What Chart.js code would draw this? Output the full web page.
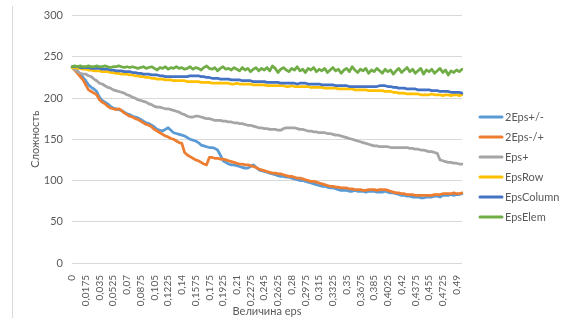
<!DOCTYPE html>
<html>
<head>
<meta charset="utf-8">
<script src="https://cdn.jsdelivr.net/npm/chart.js@4.4.1/dist/chart.umd.min.js"></script>
<style>
  html, body { margin: 0; padding: 0; background: #fff; }
  #wrap { position: relative; width: 561px; height: 321px; }
  #frame { position: absolute; left: 12px; top: 6px; height: 312px; border-left: 1px solid #d9d9d9; }
  canvas { position: absolute; left: 0; top: 0; }
</style>
</head>
<body>
<div id="wrap">
  <div id="frame"></div>
  <canvas id="c" width="561" height="321"></canvas>
</div>
<script>
// eps values along the horizontal axis
const epsValues = [
  0, 0.0035, 0.007, 0.0105, 0.014, 0.0175, 0.021, 0.0245, 0.028, 0.0315,
  0.035, 0.0385, 0.042, 0.0455, 0.049, 0.0525, 0.056, 0.0595, 0.063, 0.0665,
  0.07, 0.0735, 0.077, 0.0805, 0.084, 0.0875, 0.091, 0.0945, 0.098, 0.1015,
  0.105, 0.1085, 0.112, 0.1155, 0.119, 0.1225, 0.126, 0.1295, 0.133, 0.1365,
  0.14, 0.1435, 0.147, 0.1505, 0.154, 0.1575, 0.161, 0.1645, 0.168, 0.1715,
  0.175, 0.1785, 0.182, 0.1855, 0.189, 0.1925, 0.196, 0.1995, 0.203, 0.2065,
  0.21, 0.2135, 0.217, 0.2205, 0.224, 0.2275, 0.231, 0.2345, 0.238, 0.2415,
  0.245, 0.2485, 0.252, 0.2555, 0.259, 0.2625, 0.266, 0.2695, 0.273, 0.2765,
  0.28, 0.2835, 0.287, 0.2905, 0.294, 0.2975, 0.301, 0.3045, 0.308, 0.3115,
  0.315, 0.3185, 0.322, 0.3255, 0.329, 0.3325, 0.336, 0.3395, 0.343, 0.3465,
  0.35, 0.3535, 0.357, 0.3605, 0.364, 0.3675, 0.371, 0.3745, 0.378, 0.3815,
  0.385, 0.3885, 0.392, 0.3955, 0.399, 0.4025, 0.406, 0.4095, 0.413, 0.4165,
  0.42, 0.4235, 0.427, 0.4305, 0.434, 0.4375, 0.441, 0.4445, 0.448, 0.4515,
  0.455, 0.4585, 0.462, 0.4655, 0.469, 0.4725, 0.476, 0.4795, 0.483, 0.4865,
  0.49, 0.4935, 0.497
];

const series2EpsPM = [
  237, 236, 233, 229, 225, 221, 216, 213, 211, 208,
  201, 197, 195, 193, 190, 188, 187, 186, 185, 183,
  181, 180, 178, 177, 176, 174, 172, 170, 169, 167,
  165, 162, 161, 160, 162, 164, 161, 158, 157, 156,
  155, 154, 152, 150, 149, 148, 146, 143, 142, 141,
  140, 140, 139, 137, 131, 124, 122, 120, 119, 119,
  118, 117, 116, 115, 115, 117, 119, 116, 113, 112,
  111, 110, 109, 108, 107, 106, 105, 105, 104, 104,
  103, 102, 101, 100, 100, 99, 98, 97, 96, 95,
  94, 93, 93, 92, 91, 91, 90, 89, 88, 88,
  88, 87, 87, 88, 87, 87, 87, 86, 87, 87,
  87, 86, 86, 86, 87, 86, 85, 85, 84, 83,
  82, 82, 81, 81, 80, 80, 80, 79, 79, 80,
  80, 80, 81, 81, 80, 82, 82, 82, 83, 82,
  83, 83, 84
];

const series2EpsMP = [
  237, 234, 230, 226, 222, 216, 210, 208, 206, 204,
  198, 195, 193, 190, 188, 187, 186, 187, 185, 182,
  180, 178, 177, 175, 174, 172, 170, 168, 167, 165,
  162, 160, 158, 156, 154, 153, 151, 150, 148, 146,
  145, 134, 131, 129, 127, 125, 124, 122, 120, 119,
  128, 128, 127, 127, 126, 126, 125, 124, 123, 122,
  121, 120, 120, 119, 119, 118, 117, 116, 114, 113,
  112, 111, 110, 109, 109, 108, 108, 107, 106, 105,
  105, 104, 103, 103, 102, 101, 100, 99, 99, 98,
  97, 96, 95, 94, 93, 93, 92, 92, 91, 91,
  91, 90, 90, 89, 89, 89, 88, 88, 89, 89,
  89, 88, 89, 89, 89, 88, 87, 86, 85, 85,
  84, 84, 83, 83, 83, 82, 82, 82, 82, 82,
  82, 82, 83, 83, 83, 84, 84, 84, 84, 85,
  84, 84, 85
];

const seriesEpsPlus = [
  237, 235, 232, 230, 229, 229, 227, 226, 223, 221,
  218, 217, 215, 213, 212, 210, 209, 208, 207, 206,
  204, 203, 201, 200, 198, 197, 196, 195, 193, 192,
  190, 189, 189, 188, 187, 187, 186, 185, 184, 183,
  181, 180, 178, 177, 177, 178, 178, 177, 176, 175,
  175, 174, 173, 173, 173, 172, 172, 171, 171, 170,
  170, 169, 169, 168, 167, 167, 166, 165, 164, 164,
  163, 163, 162, 162, 162, 161, 161, 163, 164, 164,
  164, 164, 163, 162, 162, 161, 160, 160, 159, 159,
  158, 158, 158, 157, 157, 156, 155, 155, 154, 153,
  152, 151, 150, 149, 148, 147, 146, 145, 144, 143,
  142, 142, 141, 141, 141, 141, 140, 140, 140, 140,
  140, 140, 140, 139, 139, 138, 138, 137, 137, 136,
  135, 135, 134, 133, 125, 124, 123, 122, 122, 121,
  121, 120, 120
];

const seriesEpsRow = [
  237, 237, 236, 236, 235, 235, 234, 234, 233, 233,
  233, 232, 232, 232, 231, 231, 230, 230, 229, 229,
  229, 228, 228, 227, 227, 226, 226, 225, 225, 224,
  224, 223, 223, 223, 222, 222, 222, 221, 221, 221,
  221, 221, 220, 220, 220, 220, 220, 219, 219, 219,
  219, 218, 218, 218, 218, 218, 218, 218, 217, 217,
  218, 217, 217, 217, 217, 217, 216, 216, 216, 216,
  216, 215, 215, 215, 215, 215, 215, 215, 214, 214,
  215, 214, 214, 214, 214, 214, 214, 213, 213, 213,
  213, 213, 212, 212, 212, 212, 212, 211, 211, 211,
  211, 211, 211, 210, 210, 210, 210, 210, 209, 209,
  209, 209, 209, 209, 208, 208, 208, 207, 207, 206,
  206, 206, 205, 205, 205, 205, 205, 204, 204, 204,
  204, 205, 204, 204, 204, 203, 204, 204, 203, 204,
  204, 203, 204
];

const seriesEpsColumn = [
  238, 238, 238, 237, 237, 237, 237, 236, 236, 236,
  236, 235, 235, 235, 234, 234, 233, 233, 233, 232,
  232, 232, 231, 231, 230, 230, 229, 229, 229, 228,
  228, 228, 227, 227, 226, 226, 226, 226, 226, 226,
  226, 226, 226, 227, 227, 227, 227, 226, 226, 225,
  225, 224, 224, 224, 223, 223, 223, 223, 222, 222,
  222, 222, 221, 221, 221, 221, 220, 220, 220, 220,
  220, 219, 219, 219, 219, 219, 218, 218, 218, 218,
  218, 218, 217, 218, 218, 218, 217, 217, 217, 217,
  217, 216, 216, 216, 216, 216, 215, 215, 215, 215,
  215, 214, 214, 214, 214, 214, 214, 214, 214, 214,
  214, 214, 215, 215, 215, 214, 214, 213, 213, 212,
  212, 212, 211, 211, 211, 211, 210, 210, 210, 210,
  210, 209, 209, 209, 208, 208, 208, 208, 207, 207,
  207, 207, 206
];

const seriesEpsElem = [
  238, 239, 238, 239, 238, 238, 239, 238, 238, 239,
  238, 238, 239, 238, 237, 238, 238, 239, 238, 237,
  238, 237, 238, 237, 236, 237, 238, 236, 237, 238,
  236, 234, 237, 236, 238, 235, 237, 236, 238, 236,
  237, 235, 236, 238, 235, 237, 236, 234, 237, 239,
  236, 235, 237, 233, 236, 238, 235, 236, 234, 237,
  235, 233, 237, 234, 236, 232, 235, 237, 233, 236,
  234, 237, 233, 239, 236, 231, 235, 237, 234, 232,
  236, 234, 238, 233, 235, 231, 236, 234, 237, 232,
  235, 233, 236, 231, 234, 237, 233, 235, 230, 234,
  236, 232, 238, 234, 231, 235, 233, 236, 230, 234,
  232, 236, 233, 230, 235, 232, 234, 229, 233, 236,
  231, 234, 237, 232, 235, 230, 233, 236, 229, 234,
  232, 235, 230, 233, 236, 231, 234, 228, 233, 231,
  234, 232, 235
];

const seriesNames = ['2Eps+/-', '2Eps-/+', 'Eps+', 'EpsRow', 'EpsColumn', 'EpsElem'];
const seriesColors = ['#5B9BD5', '#ED7D31', '#A5A5A5', '#FFC000', '#4472C4', '#70AD47'];
const seriesData = [series2EpsPM, series2EpsMP, seriesEpsPlus, seriesEpsRow, seriesEpsColumn, seriesEpsElem];

const FONT = 'Lato, "Open Sans", sans-serif';
const TEXT = '#595959';

// legend drawn to the right of the plot, one line sample per series
const sideLegend = {
  id: 'sideLegend',
  afterDraw(chart) {
    const ctx = chart.ctx;
    ctx.save();
    chart.data.datasets.forEach((ds, k) => {
      const y = 117 + k * 20;
      ctx.strokeStyle = ds.borderColor;
      ctx.lineWidth = 3;
      ctx.lineCap = 'round';
      ctx.beginPath();
      ctx.moveTo(480, y);
      ctx.lineTo(502, y);
      ctx.stroke();
      ctx.fillStyle = TEXT;
      ctx.font = '11px ' + FONT;
      ctx.textBaseline = 'middle';
      ctx.textAlign = 'left';
      ctx.fillText(ds.label, 505, y);
    });
    ctx.restore();
  }
};

new Chart(document.getElementById('c'), {
  type: 'line',
  data: {
    labels: epsValues,
    datasets: seriesData.map((d, k) => ({
      label: seriesNames[k],
      data: d,
      borderColor: seriesColors[k],
      backgroundColor: seriesColors[k],
      borderWidth: 2.75,
      pointRadius: 0,
      tension: 0,
      borderJoinStyle: 'round',
      borderCapStyle: 'round',
      order: seriesNames.length - k
    }))
  },
  options: {
    responsive: false,
    animation: false,
    devicePixelRatio: 1,
    layout: { padding: { left: 29, right: 99, top: 15, bottom: 3 } },
    plugins: { legend: { display: false }, tooltip: { enabled: false } },
    scales: {
      x: {
        type: 'category',
        offset: false,
        grid: { display: false },
        border: { display: false },
        ticks: {
          autoSkip: false,
          maxRotation: 90,
          minRotation: 90,
          padding: 4,
          color: TEXT,
          font: { family: FONT, size: 10 },
          callback(value, index) {
            return index % 5 === 0 ? String(epsValues[index]).replace('.', ',') : '';
          }
        },
        title: {
          display: true,
          text: 'Величина eps',
          color: TEXT,
          font: { family: FONT, size: 11 },
          padding: { top: 0, bottom: 0 }
        },
        afterFit(scale) { scale.height = 55; }
      },
      y: {
        min: 0,
        max: 300,
        grid: { color: '#D9D9D9', lineWidth: 1, drawTicks: false },
        border: { display: false },
        ticks: {
          stepSize: 50,
          padding: 9,
          color: TEXT,
          font: { family: FONT, size: 11 }
        },
        title: {
          display: true,
          text: 'Сложность',
          color: TEXT,
          font: { family: FONT, size: 11 },
          padding: { top: 0, bottom: 0 }
        },
        afterFit(scale) { scale.width = 43; }
      }
    }
  },
  plugins: [sideLegend]
});
</script>
</body>
</html>
